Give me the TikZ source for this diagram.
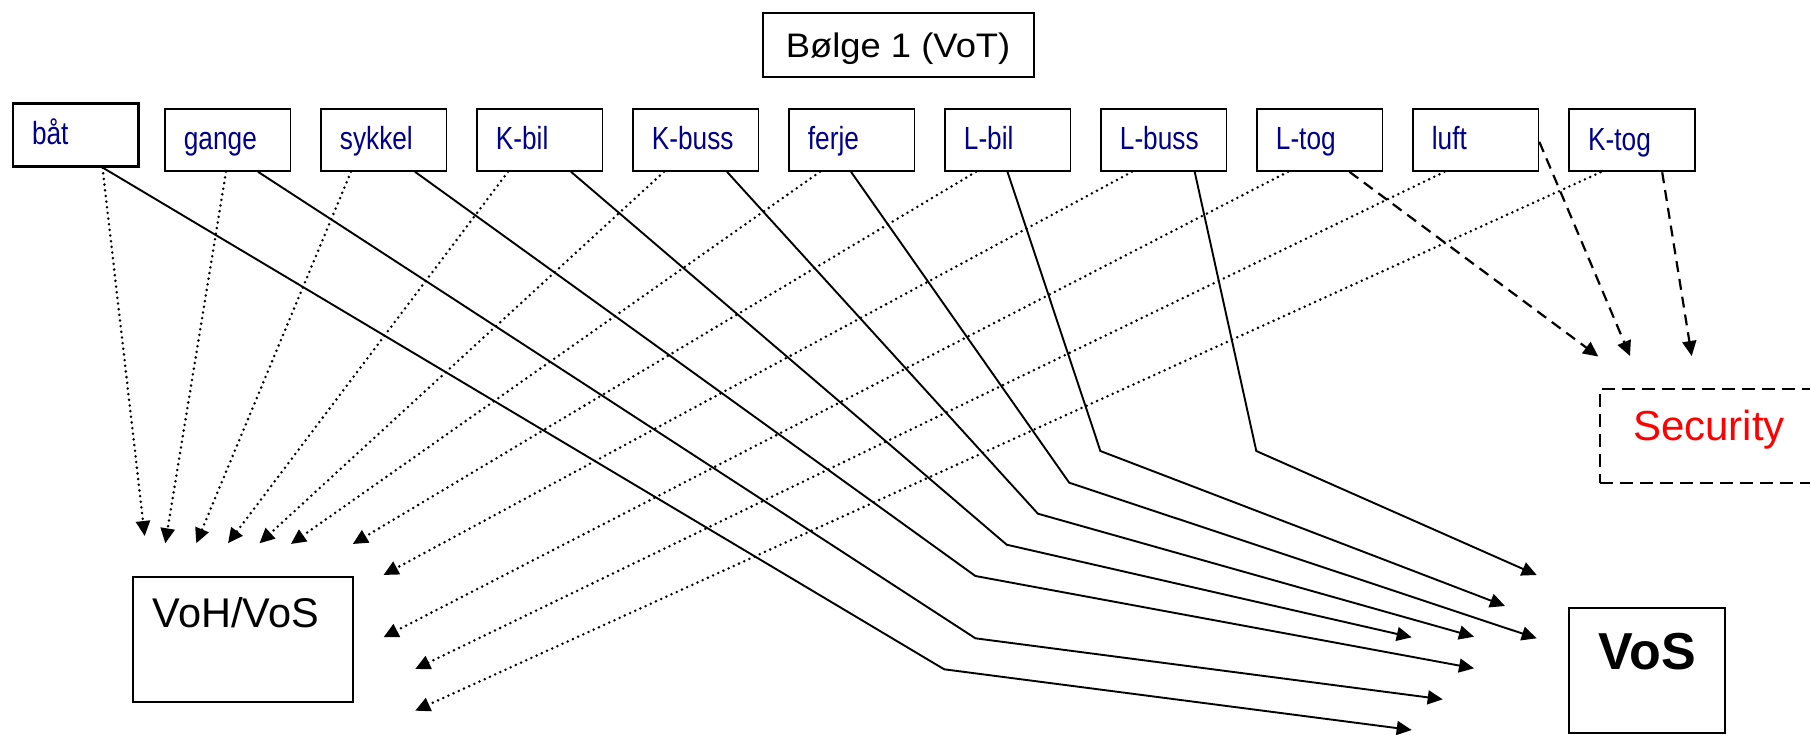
\documentclass[tikz,border=0pt]{standalone}
\usepackage{fontspec}
\setmainfont{Liberation Sans}
\newfontfamily\narrowsans[FakeStretch=0.82]{Liberation Sans}
\newfontfamily\widesans[FakeStretch=1.07]{Liberation Sans}
\usetikzlibrary{arrows.meta,calc}
\definecolor{labelblue}{RGB}{0,0,140}
\begin{document}
\begin{tikzpicture}[x=1pt,y=-1pt,
  modebox/.style={draw, line width=1.8pt, anchor=north west, inner xsep=19pt, inner ysep=0pt,
    text width=87.5pt, text height=41pt, text depth=21pt,
    font=\narrowsans\fontsize{32}{38}\selectfont, text=labelblue},
  titlebox/.style={draw, line width=1.8pt, anchor=north west, inner sep=0pt, align=center,
    minimum width=271pt, text height=45pt, text depth=19.3pt,
    font=\widesans\fontsize{34}{40}\selectfont},
  dotline/.style={line width=2.8pt, dash pattern=on 0pt off 5.7pt, line cap=round,
    -{Triangle[length=15pt,width=14pt]}},
  solidline/.style={line width=1.9pt, -{Triangle[length=15pt,width=14pt]}},
  dashline/.style={line width=2.2pt, dash pattern=on 11pt off 7pt,
    -{Triangle[length=15pt,width=14pt]}},
]
\useasboundingbox (0,0) rectangle (1810,734);
\clip (0,0) rectangle (1810,734);

% title
\node[titlebox] (bolge) at (761.7,11.7) {Bølge 1 (VoT)};

% mode boxes
\node[modebox, line width=2.6pt, text height=40.4pt, text depth=22.3pt] (bat) at (11.7,102.3) {båt};
\node[modebox] (gange)  at (164,108) {gange};
\node[modebox] (sykkel) at (320,108) {sykkel};
\node[modebox] (kbil)   at (476,108) {K-bil};
\node[modebox] (kbuss)  at (632,108) {K-buss};
\node[modebox] (ferje)  at (788,108) {ferje};
\node[modebox] (lbil)   at (944,108) {L-bil};
\node[modebox] (lbuss)  at (1100,108) {L-buss};
\node[modebox] (ltog)   at (1256,108) {L-tog};
\node[modebox] (luft)   at (1412,108) {luft};
\node[modebox, line width=2.3pt] (ktog) at (1568,108) {K-tog};

% target boxes
\node[draw, line width=1.8pt, anchor=north west, inner xsep=20pt, inner ysep=0pt,
  text width=180pt, text height=50.7pt, text depth=74pt,
  font=\fontsize{41.5}{48}\selectfont] (voh) at (132,576) {VoH/VoS};
\node[draw, line width=1.8pt, anchor=north west, inner sep=0pt, align=center,
  minimum width=156pt, text height=61.6pt, text depth=63.4pt,
  font=\bfseries\fontsize{52}{60}\selectfont] (vos) at (1568.3,606.7) {VoS};
\node[draw, line width=1.8pt, dash pattern=on 13pt off 7pt, anchor=north west,
  inner xsep=33pt, inner ysep=0pt, text width=164.7pt, text height=51.7pt, text depth=42pt,
  font=\fontsize{42}{48}\selectfont, text=red] (sec) at (1599.3,388.3) {Security};

% dotted connectors to VoH/VoS
\foreach \n/\sx/\tx/\ty in {bat/90.8/144.7/536, gange/62/165.3/543.3, sykkel/31/196.3/543.3,
    kbil/32/228/543.3, kbuss/32/259.5/543.3, ferje/32/290.9/544, lbil/32/352.8/544,
    lbuss/32/383.5/575, ltog/32/383.5/637.3, luft/32.5/415.2/669, ktog/32.5/415.2/710.7}{
  \coordinate (dt-\n) at (\tx,\ty);
  \draw[dotline] ([xshift=\sx pt]\n.south west) -- (dt-\n);
}

% solid connectors to VoS
\foreach \n/\sx/\bx/\by/\tx/\ty in {bat/91/944.2/669.3/1411.7/730,
    gange/94/975.4/638.3/1442.7/699.3, sykkel/95/975.4/576/1474/668.3,
    kbil/95/1006.7/544.7/1411.7/637.3, kbuss/95/1037.9/513.7/1474/636.7,
    ferje/63/1069.2/482.7/1536.7/638.3, lbil/63.5/1100.4/451/1505/606,
    lbuss/94.7/1256.3/451/1536.7/575}{
  \coordinate (bd-\n) at (\bx,\by);
  \coordinate (st-\n) at (\tx,\ty);
  \draw[solidline] ([xshift=\sx pt]\n.south west) -- (bd-\n) -- (st-\n);
}

% dashed connectors to Security
\coordinate (sc-ltog) at (1598.3,356.5);
\coordinate (sc-luft) at (1630,356);
\coordinate (sc-ktog) at (1691.7,356);
\draw[dashline] ([xshift=93.4pt]ltog.south west) -- (sc-ltog);
\draw[dashline] ([yshift=30pt]luft.south east) -- (sc-luft);
\draw[dashline] ([xshift=94.2pt]ktog.south west) -- (sc-ktog);
\end{tikzpicture}
\end{document}
